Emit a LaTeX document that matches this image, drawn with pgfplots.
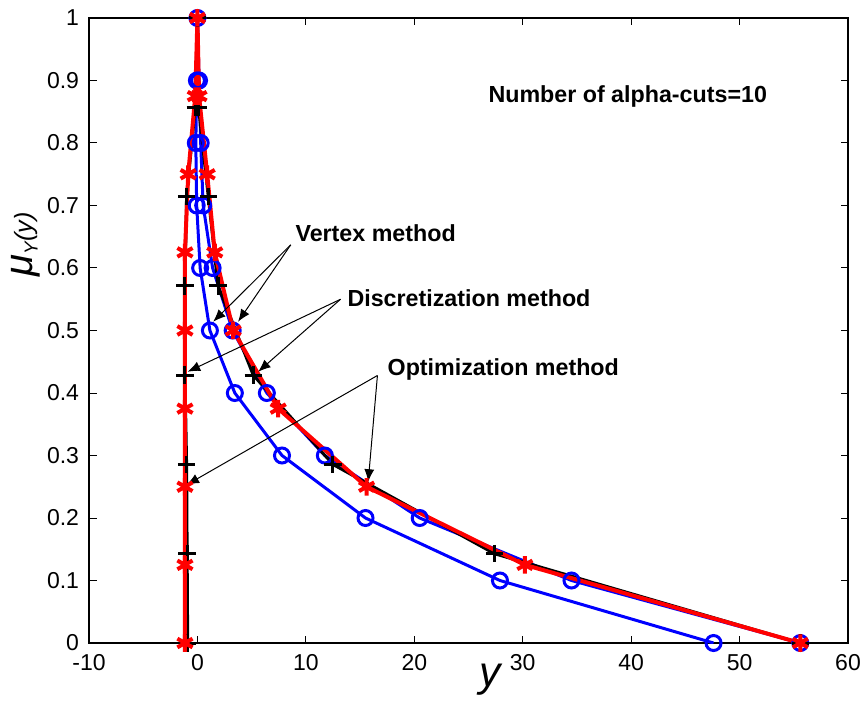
\documentclass[border=0pt]{standalone}
\usepackage{fontspec}
\setmainfont{Liberation Sans}
\usepackage{pgfplots}
\pgfplotsset{compat=1.18}
\usetikzlibrary{arrows.meta}

\begin{document}
\begin{tikzpicture}
  \begin{axis}[
      scale only axis,
      width=303.6pt, height=250pt,
      xmin=-10, xmax=60, ymin=0, ymax=1,
      xtick={-10,0,10,20,30,40,50,60},
      ytick={0,0.1,0.2,0.3,0.4,0.5,0.6,0.7,0.8,0.9,1},
      tick align=inside,
      major tick length=3pt,
      tick style={black, line width=0.4pt},
      axis line style={line width=0.5pt},
      /pgf/number format/assume math mode=true,
      ticklabel style={font=\fontsize{9.2}{10}\selectfont, inner sep=0pt},
      xticklabel style={yshift=-4.5pt},
      yticklabel style={xshift=-3.8pt},
      xlabel={\fontsize{17}{17}\selectfont\itshape y},
      xlabel style={at={(axis description cs:0.528,-0.059)}, anchor=center},
      ylabel={\fontsize{16}{16}\selectfont\itshape μ\raisebox{-2pt}{\fontsize{7.5}{8}\selectfont Y}\fontsize{10}{10}\selectfont(y)},
      ylabel style={at={(axis description cs:-0.083,0.638)}, anchor=center},
    ]
    % vertex method
    \addplot[blue, line width=1.2pt, mark=o, mark size=3pt, mark options={solid}] coordinates {
      (47.6,0) (27.9,0.1) (15.5,0.2) (7.8,0.3) (3.45,0.4) (1.15,0.5) (0.25,0.6)
      (-0.07,0.7) (-0.15,0.8) (-0.05,0.9) (0,1) (0.15,0.9) (0.3,0.8) (0.53,0.7)
      (1.4,0.6) (3.25,0.5) (6.4,0.4) (11.75,0.3) (20.5,0.2) (34.5,0.1) (55.6,0)
    };
    % discretization method
    \addplot[black, line width=1.2pt, mark=+, mark size=3.5pt] coordinates {
      (-0.9,0) (-0.95,0.1429) (-1.0,0.2857) (-1.15,0.4286) (-1.15,0.5714)
      (-1.0,0.7143) (-0.2,0.8571) (0,1) (0.1,0.8571) (1.0,0.7143) (1.9,0.5714)
      (5.15,0.4286) (12.5,0.2857) (27.4,0.1429) (55.6,0)
    };
    % optimization method
    \addplot[red, line width=1.6pt, mark=asterisk, mark size=3.5pt] coordinates {
      (-1.15,0) (-1.15,0.125) (-1.15,0.25) (-1.15,0.375) (-1.15,0.5) (-1.15,0.625)
      (-0.85,0.75) (-0.2,0.875) (0,1) (0.15,0.875) (0.9,0.75) (1.6,0.625)
      (3.3,0.5) (7.45,0.375) (15.6,0.25) (30.2,0.125) (55.6,0)
    };

    \coordinate (bl) at (rel axis cs:0,0);
    \coordinate (tr) at (rel axis cs:1,1);

    \begin{scope}[font=\fontsize{9.3}{11}\selectfont\bfseries]
      \node[anchor=west, inner sep=0pt] at (axis cs:26.8,0.874) {Number of alpha-cuts=10};
      \node[anchor=west, inner sep=0pt] at (axis cs:9.0,0.656) {Vertex method};
      \node[anchor=west, inner sep=0pt] at (axis cs:13.8,0.552) {Discretization method};
      \node[anchor=west, inner sep=0pt] at (axis cs:17.5,0.437) {Optimization method};
    \end{scope}

    \begin{scope}[line width=0.4pt, -{Latex[length=5pt,width=4pt]}]
      \draw (axis cs:8.6,0.637) -- (axis cs:1.45,0.514);
      \draw (axis cs:8.6,0.637) -- (axis cs:3.75,0.514);
      \draw (axis cs:13.2,0.55) -- (axis cs:-0.9,0.434);
      \draw (axis cs:13.2,0.55) -- (axis cs:5.6,0.434);
      \draw (axis cs:16.6,0.428) -- (axis cs:-1.0,0.253);
      \draw (axis cs:16.6,0.428) -- (axis cs:15.75,0.258);
    \end{scope}
  \end{axis}
  \pgfresetboundingbox
  \path ([shift={(-35.6pt,-22.8pt)}]bl) rectangle ([shift={(5.2pt,7.2pt)}]tr);
\end{tikzpicture}
\end{document}
